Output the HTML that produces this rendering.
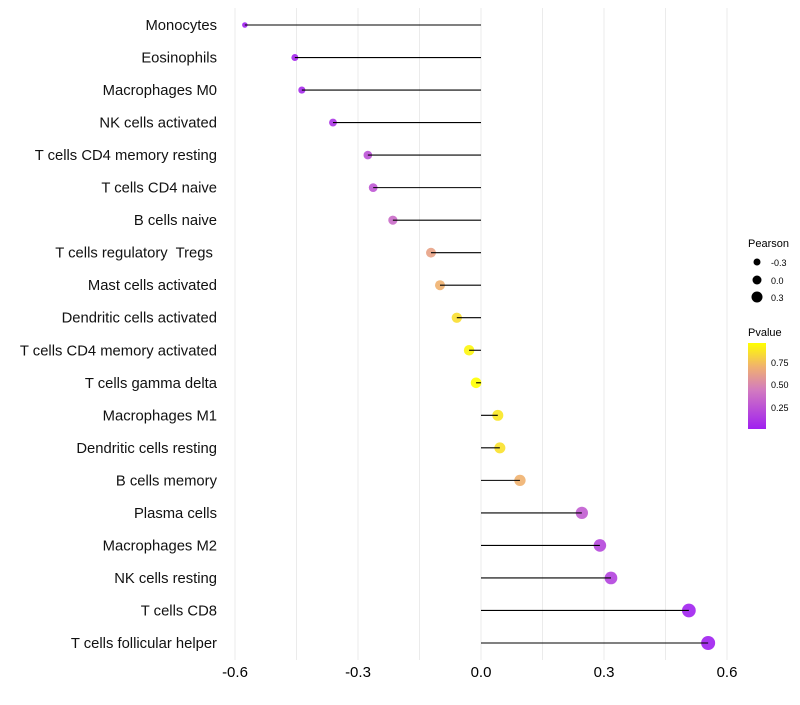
<!DOCTYPE html>
<html><head><meta charset="utf-8"><style>
body{margin:0;background:#fff;font-family:"Liberation Sans",sans-serif}
</style></head><body>
<svg id="chart" width="800" height="700" xmlns="http://www.w3.org/2000/svg">
<defs><linearGradient id="pg" x1="0" y1="1" x2="0" y2="0">
<stop offset="0" stop-color="#a020f0"/><stop offset="0.45" stop-color="#d27ac0"/><stop offset="0.72" stop-color="#f0b070"/><stop offset="1" stop-color="#ffff00"/></linearGradient></defs>
<g id="grid"></g><g id="marks"></g><g id="labels"></g>
<g font-size="10">
<text x="748" y="247" font-size="11">Pearson</text>
<circle cx="757" cy="262" r="3.5" fill="#000"/><text x="771" y="266" font-size="9">-0.3</text>
<circle cx="757" cy="280" r="4.5" fill="#000"/><text x="771" y="284" font-size="9">0.0</text>
<circle cx="757" cy="297" r="5.5" fill="#000"/><text x="771" y="301" font-size="9">0.3</text>
</g>
<g>
<text x="748" y="336" font-size="11">Pvalue</text>
<rect x="748" y="343" width="18" height="86" fill="url(#pg)"/>
<text x="771" y="366" font-size="9">0.75</text>
<text x="771" y="388" font-size="9">0.50</text>
<text x="771" y="411" font-size="9">0.25</text>
</g>
</svg>
<script>
const categories=["Monocytes","Eosinophils","Macrophages M0","NK cells activated","T cells CD4 memory resting","T cells CD4 naive","B cells naive","T cells regulatory  Tregs ","Mast cells activated","Dendritic cells activated","T cells CD4 memory activated","T cells gamma delta","Macrophages M1","Dendritic cells resting","B cells memory","Plasma cells","Macrophages M2","NK cells resting","T cells CD8","T cells follicular helper"];
const pearson=[-0.576,-0.454,-0.437,-0.361,-0.276,-0.263,-0.215,-0.122,-0.1,-0.059,-0.029,-0.012,0.041,0.046,0.095,0.246,0.29,0.317,0.507,0.554];
const pvalues=[0.02,0.05,0.06,0.12,0.25,0.27,0.37,0.63,0.7,0.85,0.93,0.97,0.88,0.86,0.7,0.3,0.2,0.18,0.03,0.02];
const ticks=[-0.6,-0.3,0.0,0.3,0.6];
const tickLabels=["-0.6","-0.3","0.0","0.3","0.6"];
const x=v=>481+v*410;
const y=i=>25+i*(618/19);
const r=v=>Math.sqrt(Math.max(3,28.7+36.7*v));
function col(p){const s=[[0,[160,32,240]],[0.45,[210,122,192]],[0.72,[240,176,112]],[1,[255,255,0]]];
 const t=Math.max(0,Math.min(1,(p-0.02)/0.94));
 for(let k=1;k<s.length;k++){if(t<=s[k][0]){const a=s[k-1],b=s[k],f=(t-a[0])/(b[0]-a[0]);
 return 'rgb('+a[1].map((c,j)=>Math.round(c+(b[1][j]-c)*f)).join(',')+')';}}return 'rgb(255,255,0)';}
const NS="http://www.w3.org/2000/svg";
const grid=document.getElementById('grid'),marks=document.getElementById('marks'),labels=document.getElementById('labels');
for(let g=-0.6;g<=0.61;g+=0.15){const l=document.createElementNS(NS,'line');


l.setAttribute('x1',x(g));l.setAttribute('x2',x(g));l.setAttribute('y1',8);l.setAttribute('y2',660);l.setAttribute('stroke','#ebebeb');l.setAttribute('stroke-width','1');grid.appendChild(l);}
ticks.forEach((t,i)=>{const tx=document.createElementNS(NS,'text');


tx.setAttribute('x',x(t));tx.setAttribute('y',677);tx.setAttribute('text-anchor','middle');tx.setAttribute('font-size','15');tx.textContent=tickLabels[i];labels.appendChild(tx);});
categories.forEach((c,i)=>{const tx=document.createElementNS(NS,'text');


tx.setAttribute('x',217);tx.setAttribute('y',y(i)+5);tx.setAttribute('text-anchor','end');tx.setAttribute('font-size','14.8');tx.setAttribute('fill','#111');tx.style.whiteSpace='pre';tx.textContent=c;labels.appendChild(tx);
const cc=document.createElementNS(NS,'circle');


cc.setAttribute('cx',x(pearson[i]));cc.setAttribute('cy',y(i));cc.setAttribute('r',r(pearson[i]));cc.setAttribute('fill',col(pvalues[i]));cc.setAttribute('fill-opacity','0.9');marks.appendChild(cc);
const l=document.createElementNS(NS,'line');


l.setAttribute('x1',x(pearson[i]));l.setAttribute('x2',x(0));l.setAttribute('y1',y(i));l.setAttribute('y2',y(i));l.setAttribute('stroke','#000');l.setAttribute('stroke-width','1.1');marks.appendChild(l);});
</script>
</body></html>
